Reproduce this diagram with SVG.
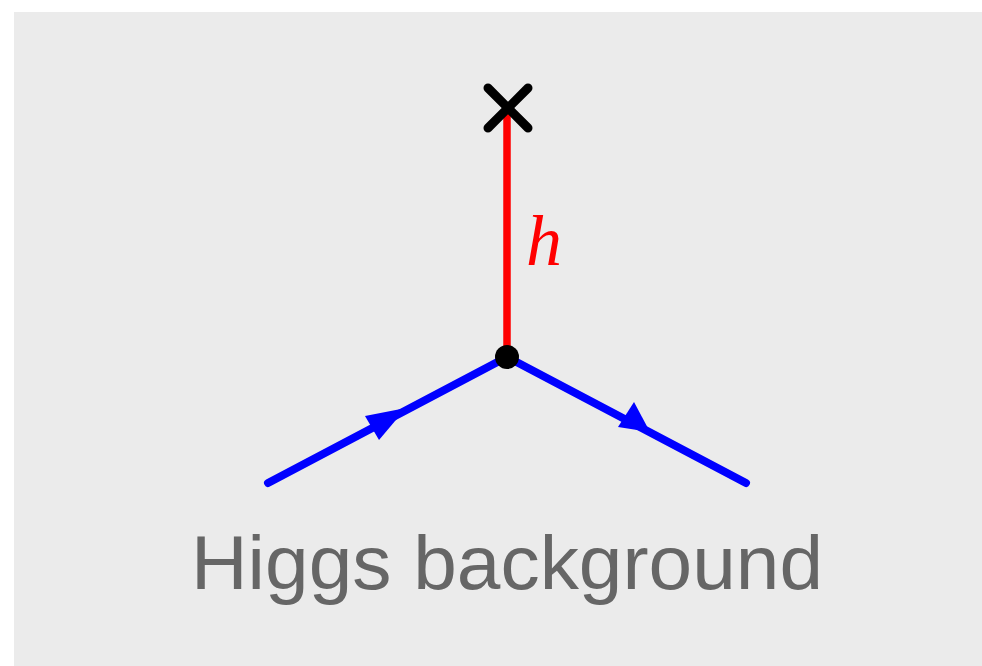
<svg xmlns="http://www.w3.org/2000/svg" width="982" height="666" viewBox="0 0 982 666">
<defs>
<style>
.fermion{stroke:#0000ff;stroke-width:8;stroke-linecap:round;fill:none}
.arrow{fill:#0000ff}
.higgs{stroke:#ff0000;stroke-width:7.5;fill:none}
.cross{stroke:#000;stroke-width:9;stroke-linecap:round}
</style>
</defs>
<rect x="14" y="12" width="968" height="654" fill="#ebebeb"/>
<g id="connectors">
<line class="higgs" x1="507" y1="110" x2="507" y2="357"/>
<line class="fermion" x1="268" y1="483" x2="507" y2="357"/>
<line class="fermion" x1="507" y1="357" x2="746" y2="483"/>
<polygon class="arrow" points="406,408 365,416 379,440"/>
<polygon class="arrow" points="650,432 634,402 618,427"/>
</g>
<g id="source">
<line class="cross" x1="488" y1="88" x2="528" y2="128"/>
<line class="cross" x1="528" y1="88" x2="488" y2="128"/>
</g>
<g id="vertex">
<circle cx="507" cy="357" r="12" fill="#000"/>
</g>
<text x="526" y="265" font-family="Liberation Serif, serif" font-style="italic" font-size="72" fill="#ff0000">h</text>
<text x="507" y="589" text-anchor="middle" font-family="Liberation Sans, Arial, sans-serif" font-size="76" fill="#666666" textLength="632" lengthAdjust="spacingAndGlyphs">Higgs background</text>
</svg>
